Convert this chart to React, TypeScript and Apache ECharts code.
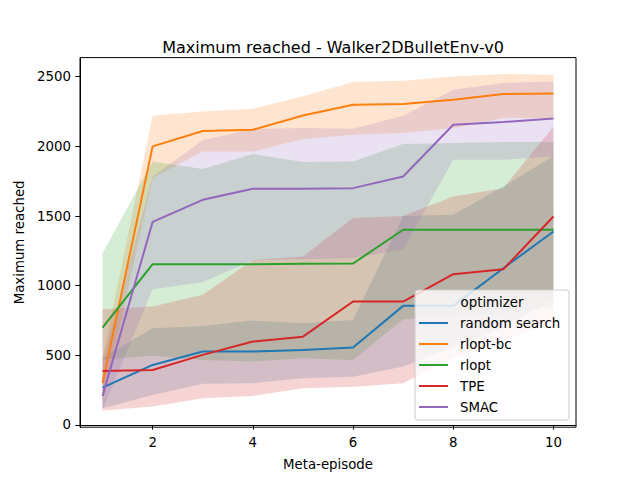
import React, { useEffect, useRef } from "react";
import * as echarts from "echarts";

const episodes = [1, 2, 3, 4, 5, 6, 7, 8, 9, 10];
const optimizers = ["random search", "rlopt-bc", "rlopt", "TPE", "SMAC"];
const colors = ["#1f77b4", "#ff7f0e", "#2ca02c", "#d62728", "#9467bd"];
const bandColors = [
  "rgba(31,119,180,0.2)",
  "rgba(255,127,14,0.2)",
  "rgba(44,160,44,0.2)",
  "rgba(214,39,40,0.2)",
  "rgba(148,103,189,0.2)",
];

const randomMean = [268, 431, 527, 527, 539, 556, 855, 855, 1125, 1389];
const randomUpper = [480, 695, 711, 749, 730, 754, 1500, 1509, 1712, 1930];
const randomLower = [120, 216, 295, 300, 335, 347, 420, 560, 700, 900];

const bcMean = [300, 2000, 2110, 2119, 2222, 2299, 2304, 2335, 2376, 2380];
const bcUpper = [480, 2220, 2251, 2270, 2359, 2462, 2471, 2502, 2519, 2514];
const bcLower = [150, 1772, 1963, 1963, 2052, 2083, 2095, 2131, 2203, 2203];

const rloptMean = [699, 1154, 1154, 1154, 1157, 1159, 1401, 1401, 1401, 1401];
const rloptUpper = [1233, 1892, 1837, 1945, 1887, 1892, 2017, 2024, 2031, 2031];
const rloptLower = [470, 496, 467, 455, 479, 467, 759, 780, 800, 850];

const tpeMean = [388, 395, 503, 599, 634, 886, 886, 1082, 1118, 1496];
const tpeUpper = [831, 850, 934, 1185, 1209, 1485, 1500, 1640, 1700, 2143];
const tpeLower = [103, 132, 192, 208, 263, 275, 300, 480, 600, 740];

const smacMean = [208, 1458, 1616, 1695, 1695, 1700, 1784, 2155, 2174, 2200];
const smacUpper = [450, 1784, 2043, 2124, 2131, 2126, 2220, 2407, 2455, 2466];
const smacLower = [110, 975, 1025, 1185, 1190, 1198, 1262, 1904, 1904, 1928];

const xTicks = [2, 4, 6, 8, 10];
const yTicks = [0, 500, 1000, 1500, 2000, 2500];

const means = [randomMean, bcMean, rloptMean, tpeMean, smacMean];
const uppers = [randomUpper, bcUpper, rloptUpper, tpeUpper, smacUpper];
const lowers = [randomLower, bcLower, rloptLower, tpeLower, smacLower];

const FONT = "DejaVu Sans";

export default function App() {
  const ref = useRef<HTMLDivElement>(null);
  useEffect(() => {
    if (!ref.current) return;
    const chart = echarts.init(ref.current, null, { renderer: "svg" });

    const bandSeries = optimizers.map((name, k) => ({
      type: "custom",
      name: name + " band",
      z: 1,
      silent: true,
      data: [[episodes[0], lowers[k][0]]],
      encode: { x: 0, y: 1 },
      renderItem: (params: any, api: any) => {
        const pts: number[][] = [];
        for (let i = 0; i < episodes.length; i++) {
          pts.push(api.coord([episodes[i], uppers[k][i]]));
        }
        for (let i = episodes.length - 1; i >= 0; i--) {
          pts.push(api.coord([episodes[i], lowers[k][i]]));
        }
        return {
          type: "polygon",
          shape: { points: pts },
          style: { fill: bandColors[k], stroke: null },
        };
      },
    }));

    const lineSeries = optimizers.map((name, k) => ({
      type: "line",
      name,
      z: 2,
      showSymbol: false,
      symbol: "none",
      data: episodes.map((x, i) => [x, means[k][i]]),
      lineStyle: { color: colors[k], width: 2 },
      itemStyle: { color: colors[k] },
    }));

    chart.setOption({
      animation: false,
      backgroundColor: "#ffffff",
      title: {
        text: "Maximum reached - Walker2DBulletEnv-v0",
        left: 328,
        textAlign: "center",
        top: 34,
        textStyle: {
          fontFamily: FONT,
          fontSize: 16,
          fontWeight: "normal",
          color: "#000",
        },
      },
      grid: {
        left: 80,
        right: 64,
        top: 57.6,
        bottom: 52.8,
        show: true,
        borderColor: "#000",
        borderWidth: 1,
        backgroundColor: "transparent",
      },
      xAxis: {
        type: "value",
        min: 0.55,
        max: 10.45,
        name: "Meta-episode",
        nameLocation: "middle",
        nameGap: 31,
        nameTextStyle: { fontFamily: FONT, fontSize: 13.33, color: "#000" },
        axisLine: { show: true, lineStyle: { color: "#000", width: 1 } },
        axisTick: {
          show: true,
          customValues: xTicks,
          length: 4.7,
          lineStyle: { color: "#000", width: 1 },
        },
        axisLabel: {
          customValues: xTicks,
          margin: 9,
          fontFamily: FONT,
          fontSize: 13.33,
          color: "#000",
          formatter: (v: number) => String(v),
        },
        splitLine: { show: false },
      },
      yAxis: {
        type: "value",
        min: -16,
        max: 2637,
        name: "Maximum reached",
        nameLocation: "middle",
        nameGap: 48.5,
        nameRotate: 90,
        nameTextStyle: { fontFamily: FONT, fontSize: 13.33, color: "#000" },
        axisLine: { show: true, lineStyle: { color: "#000", width: 1 } },
        axisTick: {
          show: true,
          customValues: yTicks,
          length: 4.7,
          lineStyle: { color: "#000", width: 1 },
        },
        axisLabel: {
          customValues: yTicks,
          margin: 9,
          fontFamily: FONT,
          fontSize: 13.33,
          color: "#000",
          formatter: (v: number) => String(v),
        },
        splitLine: { show: false },
      },
      legend: {
        data: optimizers,
        orient: "vertical",
        left: 419,
        top: 315,
        z: 5,
        icon: "rect",
        itemWidth: 29,
        itemHeight: 2,
        itemGap: 5,
        selectedMode: false,
        padding: 0,
        textStyle: {
          fontFamily: FONT,
          fontSize: 13.33,
          lineHeight: 16,
          color: "#000",
          padding: [0, 0, 0, 7],
        },
      },
      graphic: [
        {
          type: "rect",
          z: 4,
          silent: true,
          shape: { x: 415, y: 290, width: 154, height: 130, r: 3 },
          style: {
            fill: "rgba(255,255,255,0.8)",
            stroke: "#cccccc",
            lineWidth: 1,
          },
        },
        {
          type: "text",
          z: 6,
          silent: true,
          x: 492,
          y: 302,
          style: {
            text: "optimizer",
            fontFamily: FONT,
            fontSize: 13.33,
            fill: "#000",
            align: "center",
            verticalAlign: "middle",
          },
        },
      ],
      series: [...bandSeries, ...lineSeries],
    });

    return () => chart.dispose();
  }, []);

  return (
    <div
      ref={ref}
      style={{ position: "fixed", left: 0, top: 0, width: 640, height: 480 }}
    />
  );
}
